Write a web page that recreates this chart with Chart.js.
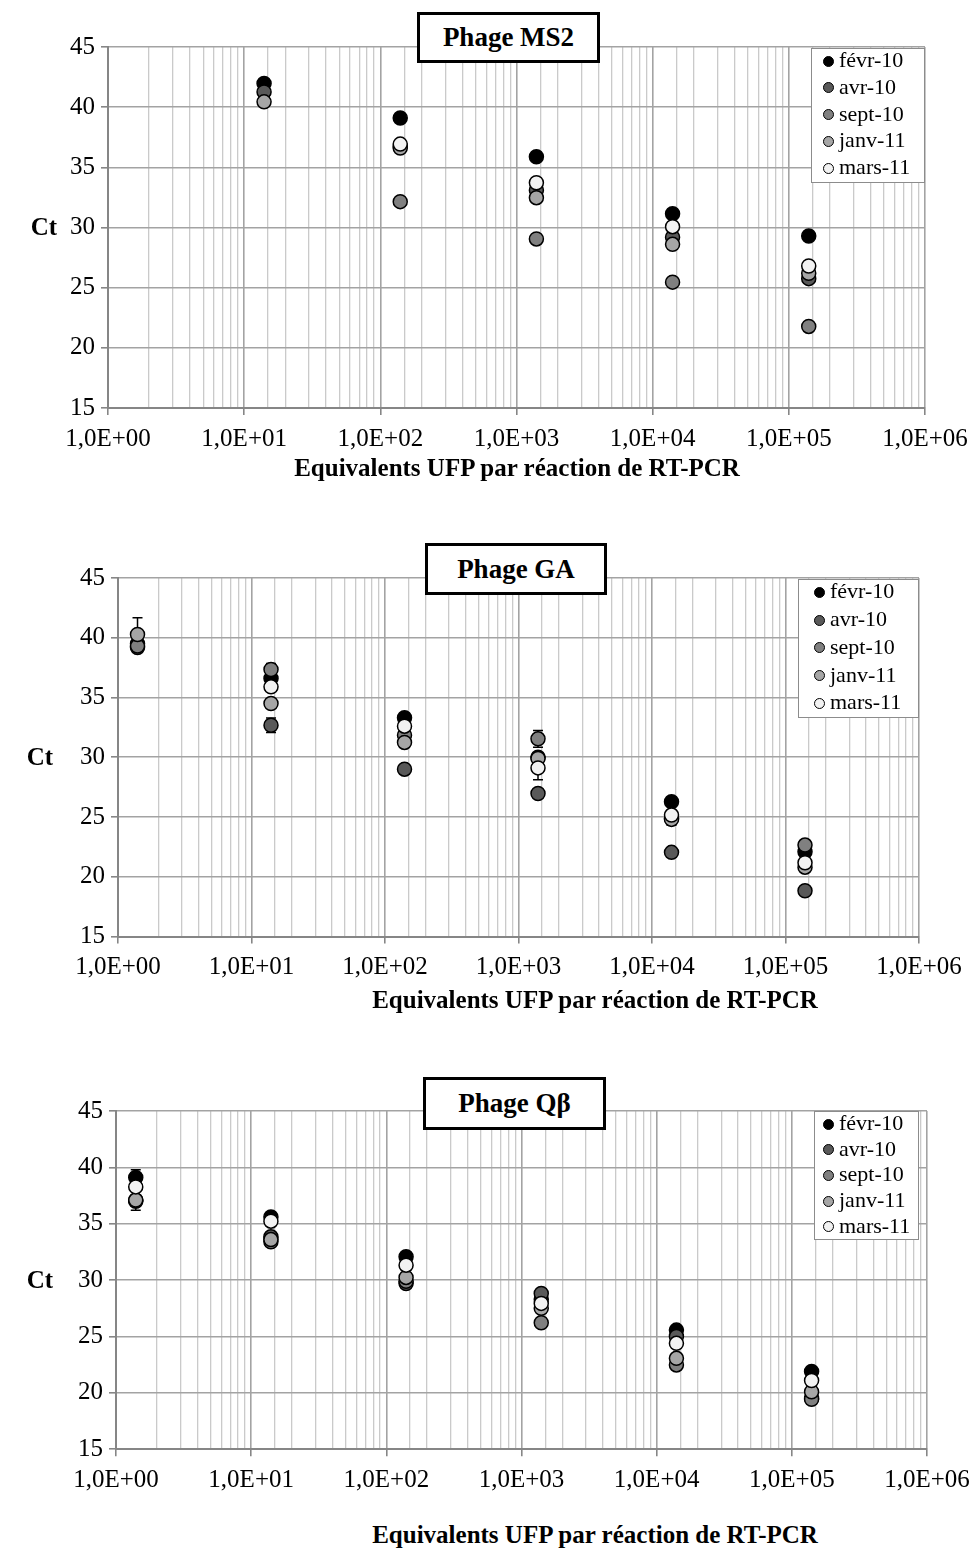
<!DOCTYPE html>
<html>
<head>
<meta charset="utf-8">
<script src="https://cdn.jsdelivr.net/npm/chart.js@4.4.1/dist/chart.umd.min.js"></script>
<style>
  html, body { margin: 0; padding: 0; background: #fff; }
  body { width: 975px; height: 1551px; position: relative; overflow: hidden; font-family: 'Liberation Serif', serif; color: #000; }
  .cwrap { position: absolute; left: 0; width: 975px; }
  .titlebox { position: absolute; border: 3px solid #000; background: #fff; box-sizing: border-box;
              font-weight: bold; font-size: 27px; display: flex; align-items: center; justify-content: center; white-space: nowrap; }
  .legend { position: absolute; border: 1.5px solid #8c8c8c; background: #fff; box-sizing: border-box; }
  .litem { position: absolute; left: 0; font-size: 22px; line-height: 22px; white-space: nowrap; }
  .lmark { position: absolute; width: 11px; height: 11px; border-radius: 50%; border: 1.5px solid #000; box-sizing: border-box; }
  .ytitle { position: absolute; font-weight: bold; font-size: 25px; white-space: nowrap; transform: translate(-50%, -50%); }
  .xtitle { position: absolute; font-weight: bold; font-size: 25px; white-space: nowrap; transform: translate(-50%, -50%); }
</style>
</head>
<body>
<script>
// ---------------- DATA ----------------
const seriesNames = ['févr-10', 'avr-10', 'sept-10', 'janv-11', 'mars-11'];
const seriesColors = ['#000000', '#595959', '#808080', '#a6a6a6', '#f2f2f2'];
const xTickLabels = ['1,0E+00', '1,0E+01', '1,0E+02', '1,0E+03', '1,0E+04', '1,0E+05', '1,0E+06'];
const yTickValues = [15, 20, 25, 30, 35, 40, 45];
const xAxisTitle = 'Equivalents UFP par réaction de RT-PCR';
const yAxisTitle = 'Ct';

// Phage MS2
const ms2Title = 'Phage MS2';
const ms2X = [14, 140, 1400, 14000, 140000];
const ms2Fevr = [41.97, 39.1, 35.88, 31.15, 29.3];
const ms2Avr = [41.27, 36.75, 33.1, 29.2, 25.75];
const ms2Sept = [null, 32.15, 29.05, 25.46, 21.78];
const ms2Janv = [40.44, 36.6, 32.48, 28.6, 26.2];
const ms2Mars = [null, 36.93, 33.72, 30.07, 26.8];
const ms2FevrErr = [0, 0.35, 0.3, 0, 0];
const ms2AvrErr = [0, 0, 0, 0, 0];
const ms2SeptErr = [0, 0, 0, 0, 0];
const ms2JanvErr = [0, 0, 0, 0, 0];
const ms2MarsErr = [0, 0, 0, 0, 0];

// Phage GA
const gaTitle = 'Phage GA';
const gaX = [1.4, 14, 140, 1400, 14000, 140000];
const gaFevr = [39.5, 36.6, 33.3, 30.0, 26.27, 22.1];
const gaAvr = [39.18, 32.68, 29.0, 26.97, 22.04, 18.83];
const gaSept = [39.3, 37.34, 31.85, 31.54, 24.9, 22.65];
const gaJanv = [40.27, 34.5, 31.24, 29.9, 24.8, 20.8];
const gaMars = [null, 35.89, 32.6, 29.11, 25.16, 21.17];
const gaFevrErr = [0, 0, 0, 0, 0, 0];
const gaAvrErr = [0, 0.6, 0, 0, 0, 0];
const gaSeptErr = [0, 0.5, 0, 0.7, 0, 0];
const gaJanvErr = [1.4, 0, 0, 0, 0, 0];
const gaMarsErr = [0, 0, 0, 1.0, 0.85, 0.6];

// Phage Qβ
const qbTitle = 'Phage Qβ';
const qbX = [1.4, 14, 140, 1400, 14000, 140000];
const qbFevr = [39.1, 35.6, 32.07, 28.3, 25.57, 21.9];
const qbAvr = [37.0, 33.84, 29.7, 28.82, 25.0, 19.5];
const qbSept = [37.09, 33.4, 29.9, 26.22, 22.48, 19.44];
const qbJanv = [37.1, 33.6, 30.24, 27.5, 23.07, 20.1];
const qbMars = [38.27, 35.23, 31.33, 27.94, 24.4, 21.1];
const qbFevrErr = [0.7, 0, 0, 0, 0, 0];
const qbAvrErr = [0, 0, 0, 0, 0, 0];
const qbSeptErr = [0.9, 0, 0, 0, 0, 0];
const qbJanvErr = [0, 0, 0, 0, 0, 0];
const qbMarsErr = [0, 0, 0, 0, 0, 0];

// ---------------- LAYOUT ----------------
const panels = [
  { title: ms2Title, x: ms2X, series: [ms2Fevr, ms2Avr, ms2Sept, ms2Janv, ms2Mars],
    errs: [ms2FevrErr, ms2AvrErr, ms2SeptErr, ms2JanvErr, ms2MarsErr],
    top: 0, height: 460, area: { left: 108, right: 925, top: 47, bottom: 408 },
    titleBox: { left: 417, top: 12, width: 183, height: 51 },
    legend: { left: 811, top: 48, width: 114, height: 135, rowTop: 61, rowGap: 26.8, markX: 828, textX: 839 },
    ct: { x: 44, y: 227 }, xt: { x: 517, y: 468 } },
  { title: gaTitle, x: gaX, series: [gaFevr, gaAvr, gaSept, gaJanv, gaMars],
    errs: [gaFevrErr, gaAvrErr, gaSeptErr, gaJanvErr, gaMarsErr],
    top: 500, height: 490, area: { left: 118, right: 919, top: 578, bottom: 936.5 },
    titleBox: { left: 425, top: 543, width: 182, height: 52 },
    legend: { left: 798, top: 579, width: 121, height: 139, rowTop: 592.3, rowGap: 27.75, markX: 819, textX: 830 },
    ct: { x: 40, y: 757 }, xt: { x: 595, y: 1000 } },
  { title: qbTitle, x: qbX, series: [qbFevr, qbAvr, qbSept, qbJanv, qbMars],
    errs: [qbFevrErr, qbAvrErr, qbSeptErr, qbJanvErr, qbMarsErr],
    top: 1030, height: 480, area: { left: 116, right: 927, top: 1111, bottom: 1449.3 },
    titleBox: { left: 423, top: 1077, width: 183, height: 53 },
    legend: { left: 814, top: 1111, width: 105, height: 129, rowTop: 1124, rowGap: 25.7, markX: 828, textX: 839 },
    ct: { x: 40, y: 1280 }, xt: { x: 595, y: 1535 } }
];

Chart.defaults.font.family = "'Liberation Serif', serif";
Chart.defaults.font.size = 25;
Chart.defaults.color = '#000';

const errorBarPlugin = {
  id: 'errorBars',
  beforeDatasetsDraw(chart, args, opts) {
    const errs = opts.errors || [];
    const xs = chart.scales.x, ys = chart.scales.y;
    const ctx = chart.ctx;
    ctx.save();
    ctx.strokeStyle = '#000';
    ctx.lineWidth = 1.5;
    chart.data.datasets.forEach((ds, i) => {
      const e = errs[i];
      if (!e) return;
      ds.data.forEach((pt, j) => {
        if (pt.y === null || !e[j]) return;
        const px = xs.getPixelForValue(pt.x);
        const y1 = ys.getPixelForValue(pt.y + e[j]);
        const y2 = ys.getPixelForValue(pt.y - e[j]);
        ctx.beginPath();
        ctx.moveTo(px, y1); ctx.lineTo(px, y2);
        ctx.moveTo(px - 5, y1); ctx.lineTo(px + 5, y1);
        ctx.moveTo(px - 5, y2); ctx.lineTo(px + 5, y2);
        ctx.stroke();
      });
    });
    ctx.restore();
  }
};

function isDecade(v) {
  const e = Math.log10(v);
  return Math.abs(e - Math.round(e)) < 1e-9;
}

panels.forEach((p, pi) => {
  const wrap = document.createElement('div');
  wrap.className = 'cwrap';
  wrap.style.top = p.top + 'px';
  wrap.style.height = p.height + 'px';
  const canvas = document.createElement('canvas');
  canvas.width = 975; canvas.height = p.height;
  canvas.style.width = '975px'; canvas.style.height = p.height + 'px';
  wrap.appendChild(canvas);
  document.body.appendChild(wrap);

  const relTop = p.area.top - p.top;
  const relBottom = p.area.bottom - p.top;
  const xAxisH = p.height - relBottom;

  const datasets = seriesNames.map((name, i) => ({
    label: name,
    data: p.x.map((xv, j) => ({ x: xv, y: p.series[i][j] })),
    backgroundColor: seriesColors[i],
    borderColor: '#000',
    borderWidth: 1.5,
    pointRadius: 7,
    pointHoverRadius: 7,
    showLine: false,
    order: seriesNames.length - 1 - i
  }));

  new Chart(canvas, {
    type: 'scatter',
    data: { datasets },
    plugins: [errorBarPlugin],
    options: {
      responsive: false,
      animation: false,
      events: [],
      layout: { padding: { top: relTop, right: 975 - p.area.right, left: 0, bottom: 0 } },
      plugins: {
        legend: { display: false },
        tooltip: { enabled: false },
        errorBars: { errors: p.errs }
      },
      scales: {
        x: {
          type: 'logarithmic',
          min: 1, max: 1e6,
          afterFit(scale) { scale.height = xAxisH; scale.paddingRight = 0; scale.paddingLeft = 0; },
          border: { color: '#868686', width: 2 },
          grid: {
            color: (c) => (c.tick && isDecade(c.tick.value)) ? '#a3a3a3' : '#cacaca',
            lineWidth: (c) => (c.tick && isDecade(c.tick.value)) ? 1.6 : 1.3,
            tickColor: (c) => (c.tick && isDecade(c.tick.value)) ? '#868686' : 'rgba(0,0,0,0)',
            tickLength: 7
          },
          ticks: {
            autoSkip: false, maxRotation: 0, minRotation: 0, padding: 9,
            font: { size: 25 },
            callback: (v) => isDecade(v) ? xTickLabels[Math.round(Math.log10(v))] : ''
          }
        },
        y: {
          min: 15, max: 45,
          afterFit(scale) { scale.width = p.area.left; scale.paddingTop = 0; scale.paddingBottom = 0; },
          afterBuildTicks(scale) { scale.ticks = yTickValues.map(v => ({ value: v })); },
          border: { color: '#868686', width: 2 },
          grid: { color: '#a3a3a3', lineWidth: 1.6, tickColor: '#868686', tickLength: 7 },
          ticks: { padding: 6, font: { size: 25 } }
        }
      }
    }
  });

  // title box
  const tb = document.createElement('div');
  tb.className = 'titlebox';
  Object.assign(tb.style, { left: p.titleBox.left + 'px', top: p.titleBox.top + 'px',
    width: p.titleBox.width + 'px', height: p.titleBox.height + 'px' });
  tb.textContent = p.title;
  document.body.appendChild(tb);

  // legend
  const lg = document.createElement('div');
  lg.className = 'legend';
  Object.assign(lg.style, { left: p.legend.left + 'px', top: p.legend.top + 'px',
    width: p.legend.width + 'px', height: p.legend.height + 'px' });
  document.body.appendChild(lg);
  seriesNames.forEach((name, i) => {
    const cy = p.legend.rowTop + i * p.legend.rowGap;
    const mk = document.createElement('div');
    mk.className = 'lmark';
    Object.assign(mk.style, { left: (p.legend.markX - 5.5) + 'px', top: (cy - 5.5) + 'px', background: seriesColors[i] });
    document.body.appendChild(mk);
    const tx = document.createElement('div');
    tx.className = 'litem';
    Object.assign(tx.style, { left: p.legend.textX + 'px', top: (cy - 12) + 'px' });
    tx.textContent = name;
    document.body.appendChild(tx);
  });

  const ct = document.createElement('div');
  ct.className = 'ytitle';
  Object.assign(ct.style, { left: p.ct.x + 'px', top: p.ct.y + 'px' });
  ct.textContent = yAxisTitle;
  document.body.appendChild(ct);

  const xt = document.createElement('div');
  xt.className = 'xtitle';
  Object.assign(xt.style, { left: p.xt.x + 'px', top: p.xt.y + 'px' });
  xt.textContent = xAxisTitle;
  document.body.appendChild(xt);
});
</script>
</body>
</html>
